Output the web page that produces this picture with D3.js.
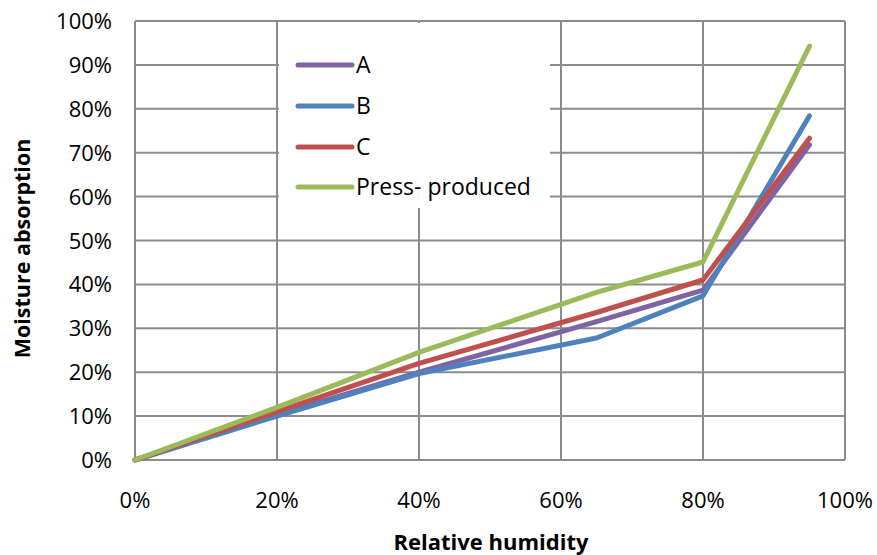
<!DOCTYPE html>
<html>
<head>
<meta charset="utf-8">
<script src="https://cdn.jsdelivr.net/npm/d3@7"></script>
<style>
body { margin: 0; background: #fff; }
text { font-family: "Open Sans", "Liberation Sans", sans-serif; fill: #000; }
</style>
</head>
<body>
<script>
// data
var humidity = [0, 20, 40, 65, 80, 95];
var seriesNames = ["A", "B", "C", "Press- produced"];
var valuesA = [0, 10.3, 20, 31.5, 38.7, 71.8];
var valuesB = [0, 10, 19.7, 27.8, 37.4, 78.4];
var valuesC = [0, 11, 22, 33.6, 41, 73.3];
var valuesPress = [0, 12, 24.5, 38.2, 45.1, 94.3];
var colors = ["#8064A2", "#4F81BD", "#C0504D", "#9BBB59"];
var xTicks = [0, 20, 40, 60, 80, 100];
var yTicks = [0, 10, 20, 30, 40, 50, 60, 70, 80, 90, 100];

var W = 877, H = 555;
var svg = d3.select("body").append("svg")
    .attr("width", W)
    .attr("height", H);

var x = d3.scaleLinear().domain([0, 100]).range([135, 845]);
var y = d3.scaleLinear().domain([0, 100]).range([460, 21]);

// grid
svg.selectAll(".hg").data(yTicks).enter().append("line")
    .attr("x1", x(0)).attr("x2", x(100))
    .attr("y1", d => y(d)).attr("y2", d => y(d))
    .attr("stroke", "#8c8c8c").attr("stroke-width", 2);
svg.selectAll(".vg").data(xTicks).enter().append("line")
    .attr("x1", d => x(d)).attr("x2", d => x(d))
    .attr("y1", y(0)).attr("y2", y(100))
    .attr("stroke", "#8c8c8c").attr("stroke-width", 2);

// tick labels
svg.selectAll(".yl").data(yTicks).enter().append("text")
    .attr("x", 112).attr("y", d => y(d) + 8)
    .attr("text-anchor", "end")
    .style("font-size", "22px")
    .text(d => d + "%");
svg.selectAll(".xl").data(xTicks).enter().append("text")
    .attr("x", d => x(d)).attr("y", 508)
    .attr("text-anchor", "middle")
    .style("font-size", "22px")
    .text(d => d + "%");

// axis titles
svg.append("text")
    .attr("transform", "translate(30," + (y(50) + 8) + ") rotate(-90)")
    .attr("text-anchor", "middle")
    .style("font-size", "21.5px").style("font-weight", "bold")
    .text("Moisture absorption");
svg.append("text")
    .attr("x", 491).attr("y", 550)
    .attr("text-anchor", "middle")
    .style("font-size", "22px").style("font-weight", "bold")
    .text("Relative humidity");

// legend box (drawn under lines)
svg.append("rect")
    .attr("x", 279).attr("y", 23)
    .attr("width", 271).attr("height", 185)
    .attr("fill", "#fff");

var allSeries = [valuesA, valuesB, valuesC, valuesPress];
var line = d3.line()
    .x((d, i) => x(humidity[i]))
    .y(d => y(d));

allSeries.forEach(function (vals, k) {
    svg.append("path")
        .datum(vals)
        .attr("d", line)
        .attr("fill", "none")
        .attr("stroke", colors[k])
        .attr("stroke-width", 5)
        .attr("stroke-linejoin", "round")
        .attr("stroke-linecap", "round");
});

// legend entries
var rowY = [65, 106, 147, 187];
seriesNames.forEach(function (name, k) {
    svg.append("line")
        .attr("x1", 298).attr("x2", 352)
        .attr("y1", rowY[k]).attr("y2", rowY[k])
        .attr("stroke", colors[k])
        .attr("stroke-width", 5)
        .attr("stroke-linecap", "round");
    svg.append("text")
        .attr("x", 356).attr("y", rowY[k] + 8)
        .style("font-size", "23px")
        .text(name);
});
</script>
</body>
</html>
